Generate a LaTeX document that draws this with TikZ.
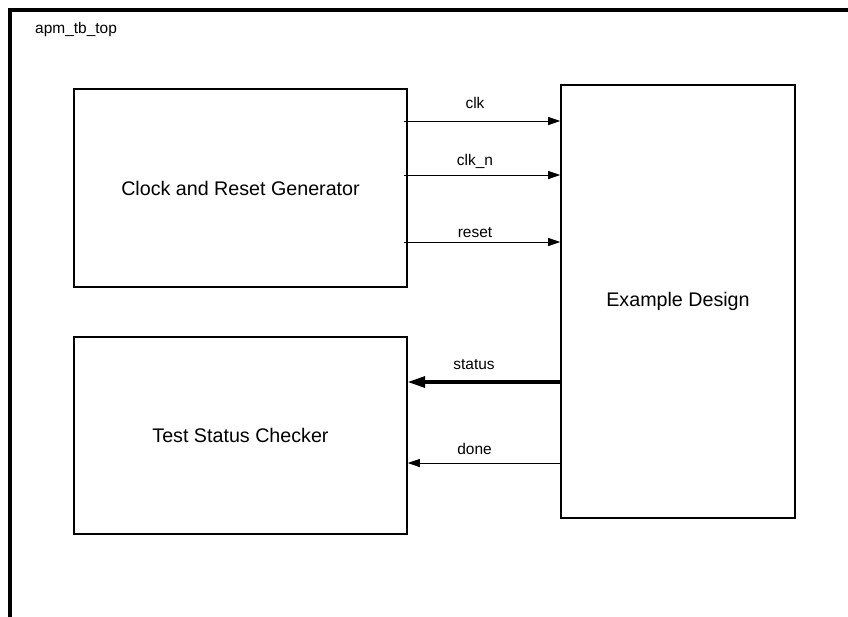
\documentclass[tikz,border=0pt]{standalone}
\usepackage{fontspec}
\setmainfont{Liberation Sans}
\usepackage{tikz}
\usetikzlibrary{arrows.meta, positioning, calc}

\tikzset{
  blk/.style={draw=black, line width=1.3pt, fill=white, inner sep=0pt, font=\fontsize{16.8}{19}\selectfont},
  sig/.style={line width=0.7pt, -{Triangle[length=3.6mm, width=2.4mm]}},
  bus/.style={line width=2.6pt, -{Triangle[length=5.2mm, width=3.3mm]}},
  lbl/.style={inner sep=0pt, anchor=base, font=\fontsize{13.2}{15}\selectfont}
}

\begin{document}
\begin{tikzpicture}[x=0.03cm, y=-0.03cm]
  \clip (0,0) rectangle (848,616);
  \fill[white] (0,0) rectangle (848,616);
  % testbench frame
  \draw[line width=3pt] (10,10) rectangle (880,650);
  \node[lbl, anchor=base west] (top) at (35,33) {apm\_tb\_top};

  % blocks
  \node[blk, minimum width=9.99cm, minimum height=5.94cm] (crg) at (240.5,188) {Clock and Reset Generator};
  \node[blk, minimum width=9.99cm, minimum height=5.91cm] (tsc) at (240.5,435.5) {Test Status Checker};
  \node[blk, minimum width=7.02cm, minimum height=12.99cm] (ed) at (678,301.5) {Example Design};

  % signal rows
  \coordinate (yclk) at (0,121);
  \coordinate (yclkn) at (0,175);
  \coordinate (yrst) at (0,242);
  \coordinate (ystat) at (0,382);
  \coordinate (ydone) at (0,463);

  \draw[sig] ([xshift=-0.12cm]crg.east |- yclk) -- (ed.west |- yclk);
  \draw[sig] ([xshift=-0.12cm]crg.east |- yclkn) -- (ed.west |- yclkn);
  \draw[sig] ([xshift=-0.12cm]crg.east |- yrst) -- (ed.west |- yrst);
  \draw[bus] (ed.west |- ystat) -- (tsc.east |- ystat);
  \draw[sig] (ed.west |- ydone) -- (tsc.east |- ydone);

  \node[lbl] (lclk) at (475,108) {clk};
  \node[lbl] (lclkn) at (475,165) {clk\_n};
  \node[lbl] (lrst) at (475,237) {reset};
  \node[lbl] (lstat) at (474,369) {status};
  \node[lbl] (ldone) at (474.5,454) {done};
\end{tikzpicture}
\end{document}
